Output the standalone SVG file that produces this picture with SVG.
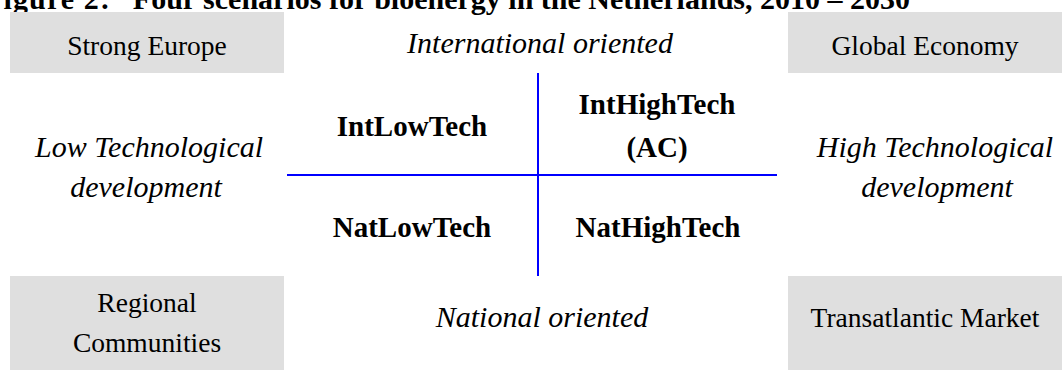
<svg xmlns="http://www.w3.org/2000/svg" width="1062" height="370" viewBox="0 0 1062 370">
<style>
.box{fill:#dfdfdf;stroke:none}
.t{font-family:"Liberation Serif","Times New Roman",serif;fill:#000;text-anchor:middle}
.lab{font-size:27.5px}
.it{font-size:30px;font-style:italic}
.b{font-size:29px;font-weight:bold}
.title{font-family:"Liberation Serif","Times New Roman",serif;font-size:30px;font-weight:bold;fill:#000}
.ax{stroke:#0000ff;stroke-width:2;fill:none}
</style>
<rect width="1062" height="370" fill="#fff"/>
<text class="title" x="-16" y="9" textLength="126" lengthAdjust="spacing">Figure 2:</text>
<text class="title" x="910" y="9" text-anchor="end">Four scenarios for bioenergy in the Netherlands, 2010 – 2030</text>
<g id="strong-europe"><rect class="box" x="10" y="12" width="274" height="61"/><text class="t lab" x="147" y="55">Strong Europe</text></g>
<g id="global-economy"><rect class="box" x="788" y="12" width="274" height="61"/><text class="t lab" x="925" y="55">Global Economy</text></g>
<g id="regional-communities"><rect class="box" x="10" y="276" width="274" height="94"/><text class="t lab" x="147" y="312">Regional</text><text class="t lab" x="147" y="352">Communities</text></g>
<g id="transatlantic-market"><rect class="box" x="788" y="276" width="274" height="94"/><text class="t lab" x="925" y="327">Transatlantic Market</text></g>
<g id="international-oriented"><text class="t it" x="540" y="53">International oriented</text></g>
<g id="national-oriented"><text class="t it" x="542" y="327">National oriented</text></g>
<g id="low-tech"><text class="t it" x="149" y="157">Low Technological</text><text class="t it" x="146" y="197">development</text></g>
<g id="high-tech"><text class="t it" x="935" y="157">High Technological</text><text class="t it" x="937" y="197">development</text></g>
<g id="intlowtech"><text class="t b" x="412" y="136">IntLowTech</text></g>
<g id="inthightech"><text class="t b" x="657" y="114">IntHighTech</text><text class="t b" x="657" y="157">(AC)</text></g>
<g id="natlowtech"><text class="t b" x="412" y="237">NatLowTech</text></g>
<g id="nathightech"><text class="t b" x="658" y="237">NatHighTech</text></g>
<g id="connectors">
<line class="ax" x1="538" y1="73" x2="538" y2="276"/>
<line class="ax" x1="287" y1="175" x2="777" y2="175"/>
</g>
</svg>
